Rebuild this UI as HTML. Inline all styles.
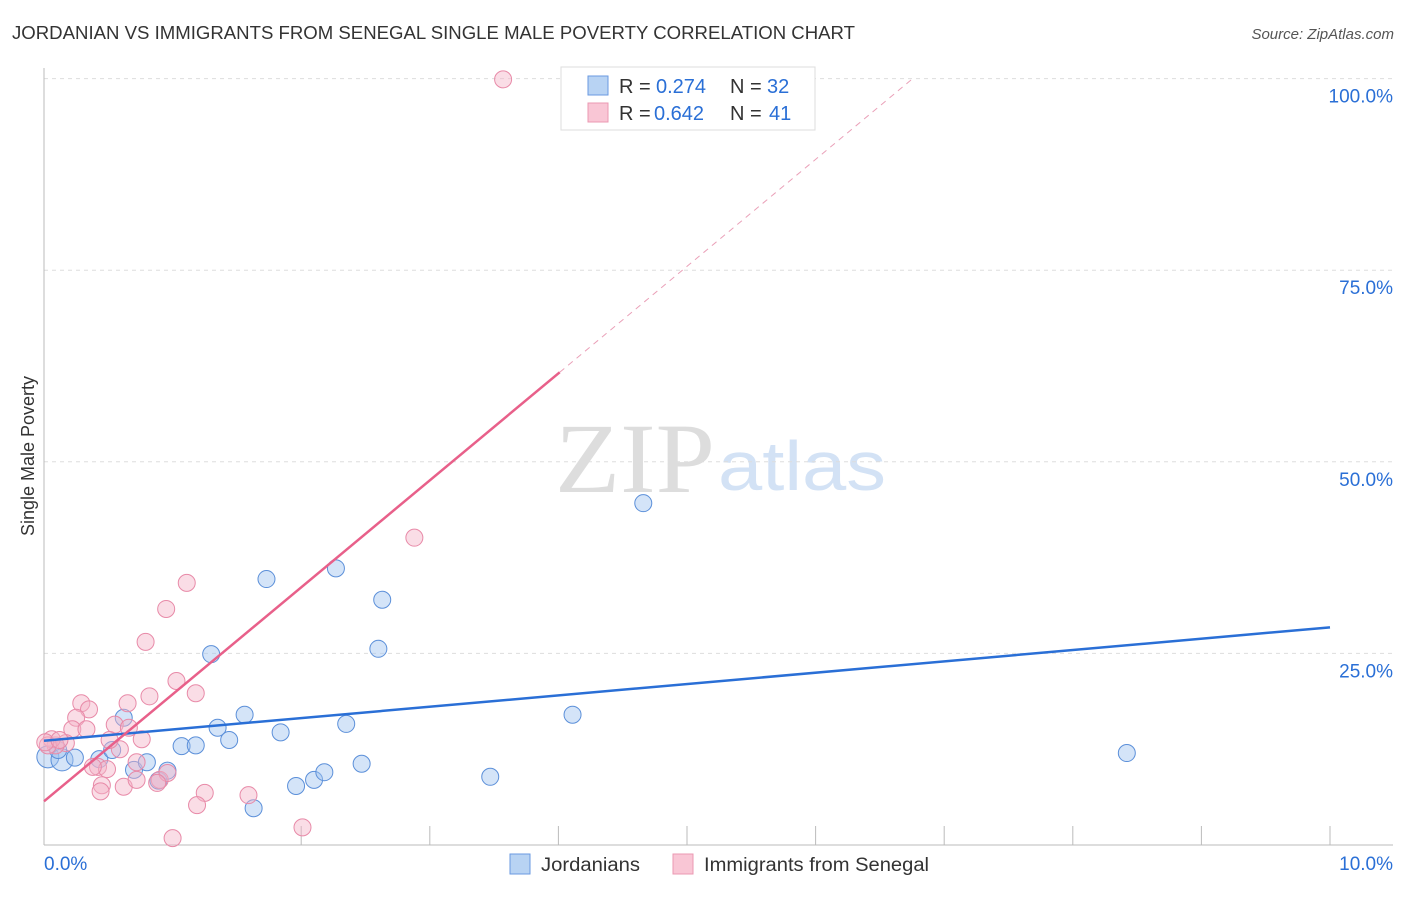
<!DOCTYPE html>
<html><head><meta charset="utf-8"><style>
body{margin:0;background:#fff;font-family:"Liberation Sans",sans-serif;}
</style></head><body>
<svg id="c" width="1406" height="892" style="font-family:'Liberation Sans',sans-serif">
<text x="12" y="39" font-size="18" fill="#333" textLength="843" lengthAdjust="spacingAndGlyphs">JORDANIAN VS IMMIGRANTS FROM SENEGAL SINGLE MALE POVERTY CORRELATION CHART</text>
<text x="1394" y="39" font-size="15" fill="#555" font-style="italic" text-anchor="end">Source: ZipAtlas.com</text>
<text x="555" y="492" font-size="100" fill="#ddd" textLength="160" lengthAdjust="spacingAndGlyphs" style="font-family:'Liberation Serif',serif">ZIP</text>
<text x="718" y="490" font-size="70" fill="#d3e2f5" textLength="168" lengthAdjust="spacingAndGlyphs">atlas</text>
<text transform="translate(34,456) rotate(-90)" font-size="18" fill="#333" text-anchor="middle">Single Male Poverty</text>
<g id="grid"></g><g id="marks"></g>
<g>
<rect x="561" y="67" width="254" height="63" fill="#fff" stroke="#ddd"/>
<rect x="588" y="76" width="20" height="19" fill="#b8d3f3" stroke="#6a9ae0"/>
<rect x="588" y="103" width="20" height="19" fill="#f9c6d5" stroke="#eb98b2"/>
<g font-size="20" fill="#333">
<text x="619" y="93">R =</text><text x="656" y="93" fill="#2a6fd6">0.274</text><text x="730" y="93">N =</text><text x="767" y="93" fill="#2a6fd6">32</text>
<text x="619" y="120">R =</text><text x="654" y="120" fill="#2a6fd6">0.642</text><text x="730" y="120">N =</text><text x="769" y="120" fill="#2a6fd6">41</text>
</g>
</g>
<g>
<rect x="510" y="854" width="20" height="20" fill="#b8d3f3" stroke="#6a9ae0"/>
<text x="541" y="871" font-size="19" fill="#333" textLength="99" lengthAdjust="spacingAndGlyphs">Jordanians</text>
<rect x="673" y="854" width="20" height="20" fill="#f9c6d5" stroke="#eb98b2"/>
<text x="704" y="871" font-size="19" fill="#333" textLength="225" lengthAdjust="spacingAndGlyphs">Immigrants from Senegal</text>
</g>
</svg>
<script>
const xTicks=[0,10];
const yTicks=[25,50,75,100];
const blueX=[0.03,0.14,0.24,0.43,0.53,0.62,0.70,0.80,0.89,0.96,1.07,1.18,1.30,1.35,1.44,1.56,1.63,1.73,1.84,1.96,2.10,2.18,2.27,2.35,2.47,2.60,2.63,3.47,4.11,4.66,8.42,0.11];
const blueY=[11.5,11.1,11.4,11.2,12.4,16.6,9.8,10.8,8.4,9.7,12.9,13.0,24.9,15.3,13.7,17.0,4.8,34.7,14.7,7.7,8.5,9.5,36.1,15.8,10.6,25.6,32.0,8.9,17.0,44.6,12.0,12.4];
const pinkX=[3.57,2.88,1.11,0.95,0.79,1.03,1.18,0.82,0.65,0.29,0.35,0.25,0.22,0.33,0.55,0.66,0.76,0.59,0.17,0.09,0.06,0.03,0.42,0.49,0.72,0.62,0.45,0.44,0.72,0.90,0.96,1.25,1.19,1.59,2.01,1.00,0.01,0.12,0.51,0.38,0.88];
const pinkY=[99.9,40.1,34.2,30.8,26.5,21.4,19.8,19.4,18.5,18.5,17.7,16.6,15.1,15.1,15.7,15.3,13.8,12.5,13.3,13.0,13.8,13.0,10.2,9.9,10.8,7.6,7.8,7.0,8.5,8.5,9.4,6.8,5.2,6.5,2.3,0.9,13.4,13.7,13.7,10.2,8.1];
const blueTrend=[13.6,28.4];
const pinkTrend=[5.7,13.96];
const NS='http://www.w3.org/2000/svg';
const X=v=>44+v*128.6, Y=v=>845-v*7.664;
function mk(p,t,a){const e=document.createElementNS(NS,t);for(const k in a)e.setAttribute(k,a[k]);p.appendChild(e);return e;}
const g=document.getElementById('grid'),m=document.getElementById('marks');
yTicks.forEach(t=>{
 const l=mk(g,'line',{x1:44,x2:1393,y1:Y(t),y2:Y(t),stroke:'#ddd','stroke-dasharray':'4,4'});
 
 
 const tx=mk(g,'text',{x:1393,y:Y(t)+24,'font-size':19,fill:'#2a6fd6','text-anchor':'end'});tx.textContent=t.toFixed(1)+'%';
 
 
});
mk(g,'line',{x1:44,x2:44,y1:68,y2:845,stroke:'#bbb'});
mk(g,'line',{x1:44,x2:1393,y1:845,y2:845,stroke:'#bbb'});
for(let i=2;i<=10;i++){mk(g,'line',{x1:X(i),x2:X(i),y1:826,y2:845,stroke:'#bbb'});}
xTicks.forEach((t,i)=>{const tx=mk(g,'text',{x:i?1393:44,y:870,'font-size':19,fill:'#2a6fd6','text-anchor':i?'end':'start'});tx.textContent=t.toFixed(1)+'%';
 
 });
blueX.forEach((x,i)=>{const c=mk(m,'circle',{cx:X(x),cy:Y(blueY[i]),r:(i<2?11:8.5),fill:'rgba(160,196,240,0.45)',stroke:'#5b8fd9','stroke-width':1});
 
 });
pinkX.forEach((x,i)=>{const c=mk(m,'circle',{cx:X(x),cy:Y(pinkY[i]),r:8.5,fill:'rgba(244,180,200,0.45)',stroke:'#e88aa8','stroke-width':1});
 
 });
const bl=mk(m,'line',{x1:X(0),y1:Y(blueTrend[0]),x2:X(10),y2:Y(blueTrend[1]),stroke:'#2a6fd6','stroke-width':2.5});


const pe=(100-pinkTrend[0])/pinkTrend[1];
const pl=mk(m,'line',{x1:X(0),y1:Y(pinkTrend[0]),x2:X(4.01),y2:Y(pinkTrend[0]+4.01*pinkTrend[1]),stroke:'#e8608a','stroke-width':2.5});


const pd=mk(m,'line',{x1:X(4.01),y1:Y(pinkTrend[0]+4.01*pinkTrend[1]),x2:X(pe),y2:Y(100),stroke:'#eaa0b8','stroke-width':1,'stroke-dasharray':'6,5'});


</script>
</body></html>
